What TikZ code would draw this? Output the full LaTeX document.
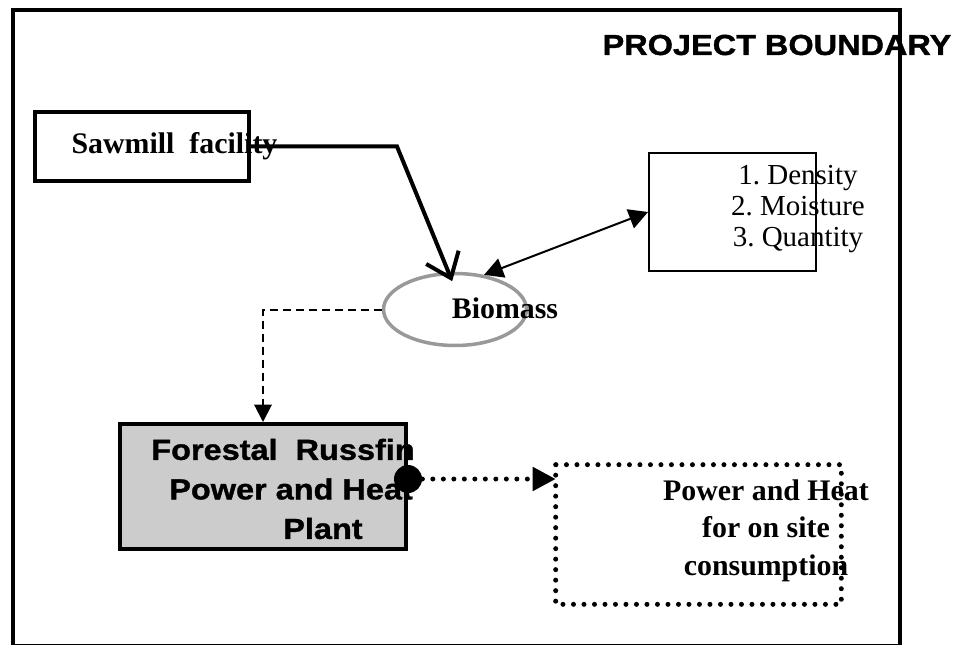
\documentclass[tikz,border=0pt]{standalone}
\usepackage{fontspec}
\usepackage{tikz}
\usetikzlibrary{arrows.meta, shapes.geometric}
\setmainfont{Liberation Serif}
\newfontfamily\heavyfont[FakeStretch=1.12, FakeBold=1.2]{Liberation Sans}
\definecolor{ringgray}{HTML}{999999}
\definecolor{plantgray}{HTML}{CCCCCC}
\frenchspacing

\begin{document}
\begin{tikzpicture}[x=0.02cm, y=-0.02cm,
        box/.style={rectangle, draw, inner sep=0},
        heavy/.style={font=\heavyfont\bfseries\fontsize{16.5}{22.5}\selectfont},
        serifbold/.style={font=\bfseries\fontsize{17}{21.3}\selectfont},
        dotline/.style={line width=0.1cm, line cap=round, dash pattern=on 0pt off 0.21cm},
        tip/.style={-{Triangle[length=#1, width=#1]}}]
        \useasboundingbox (0,0) rectangle (959,645);

        % Boundary
        \draw[line width=0.08cm] (13,645) -- (13,10) -- (900,10) -- (900,645);
        \draw[line width=0.02cm] (13,644) -- (900,644);
        \node[heavy] (title) at (777,45) {PROJECT BOUNDARY};

        % Boxes
        \node[box, line width=0.08cm, minimum width=4.28cm, minimum height=1.38cm,
            label={[serifbold, xshift=0.65cm]center:Sawmill\ \ facility}] (saw) at (142,146.5) {};
        \node[box, line width=0.04cm, minimum width=3.34cm, minimum height=2.36cm,
            label={[font=\fontsize{16.5}{17.6}\selectfont, align=center, xshift=1.31cm, yshift=0.06cm]center:1. Density\\2. Moisture\\3. Quantity}] (dens) at (732.5,212) {};
        \node[ellipse, draw=ringgray, line width=0.07cm, inner sep=0, minimum width=2.86cm, minimum height=1.44cm,
            label={[serifbold, xshift=1.0cm, yshift=0.02cm]center:Biomass}] (bio) at (455,309.5) {};
        \node[box, line width=0.08cm, fill=plantgray, minimum width=5.72cm, minimum height=2.5cm,
            label={[heavy, align=left, xshift=0.4cm, yshift=-0.05cm]center:Forestal\ \ Russfin\\\hspace*{0.36cm}Power and Heat\\\hspace*{2.64cm}Plant}] (plant) at (263,486.5) {};
        \node[box, draw=none, minimum width=5.7cm, minimum height=2.78cm,
            label={[serifbold, align=center, xshift=1.35cm, yshift=0.08cm]center:Power\ and\ Heat\\for on site\\consumption}] (cons) at (698.5,534.5) {};
        \draw[dotline] (cons.north west) rectangle (cons.south east);
        \node[circle, fill=black, inner sep=0, minimum size=0.56cm] (dot) at (408,479) {};

        % Flows
        \draw[line width=0.08cm, shorten >=-0.2cm, -{Straight Barb[length=0.45cm, width=0.7cm]}] (saw.east) -- (397,146.5) -- (bio.100);
        \draw[line width=0.04cm, {Triangle[length=0.38cm, width=0.4cm]}-{Triangle[length=0.38cm, width=0.4cm]}] (bio.50) -- (dens.west);
        \draw[line width=0.04cm, dash pattern=on 0.16cm off 0.1cm, tip=0.35cm] (bio.west) -| (plant.north);
        \draw[dotline, tip=0.46cm] (dot) -- (dot -| cons.west);
\end{tikzpicture}
\end{document}
